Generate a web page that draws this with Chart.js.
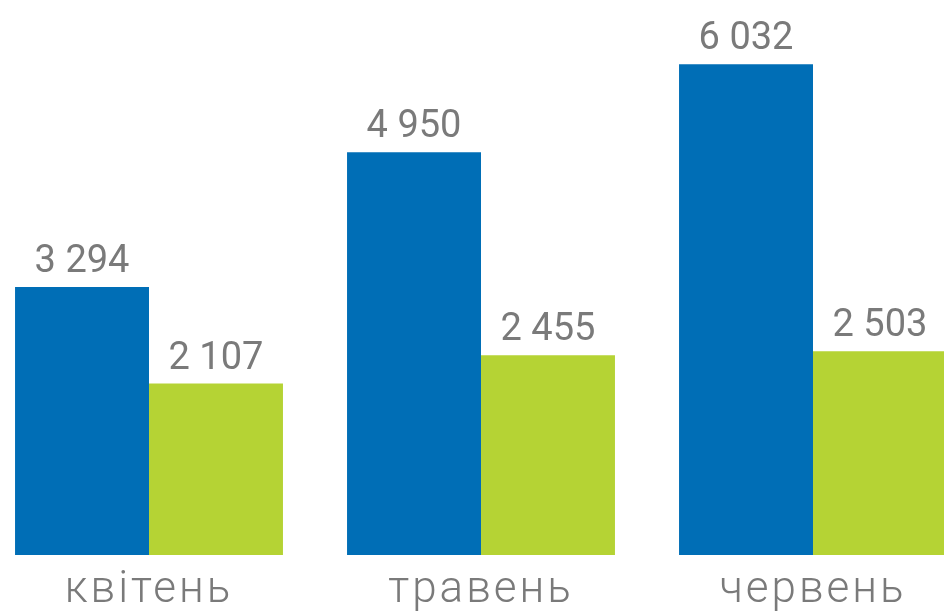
<!DOCTYPE html>
<html>
<head>
<meta charset="utf-8">
<script src="https://cdn.jsdelivr.net/npm/chart.js@4"></script>
<style>
  html, body { margin: 0; padding: 0; background: #fff; overflow: hidden; width: 944px; height: 611px; }
  #chart { position: absolute; left: -17px; top: 0; }
</style>
</head>
<body>
<canvas id="chart" width="996" height="611"></canvas>
<script>
  // ============= DATA =============
  const months = ['квітень', 'травень', 'червень'];
  const seriesBlue = [3294, 4950, 6032];
  const seriesGreen = [2107, 2455, 2503];
  const yMax = 6821;

  const BLUE = '#006EB6';
  const GREY = '#7a7a7a';
  const GREEN = '#B5D334';

  function fmt(v) {
    return String(v).replace(/\B(?=(\d{3})+(?!\d))/g, ' ');
  }

  // wider letter spacing for the month labels
  const spacing = {
    id: 'spacing',
    beforeDraw(chart) {
      if ('letterSpacing' in chart.ctx) chart.ctx.letterSpacing = '3px';
    }
  };

  // value labels above bars
  const valueLabels = {
    id: 'valueLabels',
    afterDatasetsDraw(chart) {
      const ctx = chart.ctx;
      ctx.save();
      ctx.font = '400 38px Roboto';
      ctx.fillStyle = GREY;
      ctx.textAlign = 'center';
      ctx.textBaseline = 'alphabetic';
      if ('letterSpacing' in ctx) ctx.letterSpacing = '0px';
      chart.data.datasets.forEach((ds, i) => {
        chart.getDatasetMeta(i).data.forEach((bar, j) => {
          ctx.fillText(fmt(ds.data[j]), bar.x, bar.y - 15);
        });
      });
      ctx.restore();
    }
  };

  new Chart(document.getElementById('chart'), {
    type: 'bar',
    data: {
      labels: months,
      datasets: [
        { data: seriesBlue, backgroundColor: BLUE },
        { data: seriesGreen, backgroundColor: GREEN }
      ]
    },
    options: {
      responsive: false,
      devicePixelRatio: 1,
      animation: false,
      layout: { padding: 0 },
      plugins: { legend: { display: false }, tooltip: { enabled: false } },
      datasets: { bar: { categoryPercentage: 0.807, barPercentage: 1 } },
      scales: {
        x: {
          grid: { display: false, drawTicks: false },
          border: { display: false },
          ticks: {
            padding: 10,
            color: GREY,
            font: { family: 'Roboto', size: 44, weight: 300 }
          },
          afterFit(scale) { scale.height = 56; }
        },
        y: { display: false, min: 0, max: yMax }
      }
    },
    plugins: [spacing, valueLabels]
  });
</script>
</body>
</html>
